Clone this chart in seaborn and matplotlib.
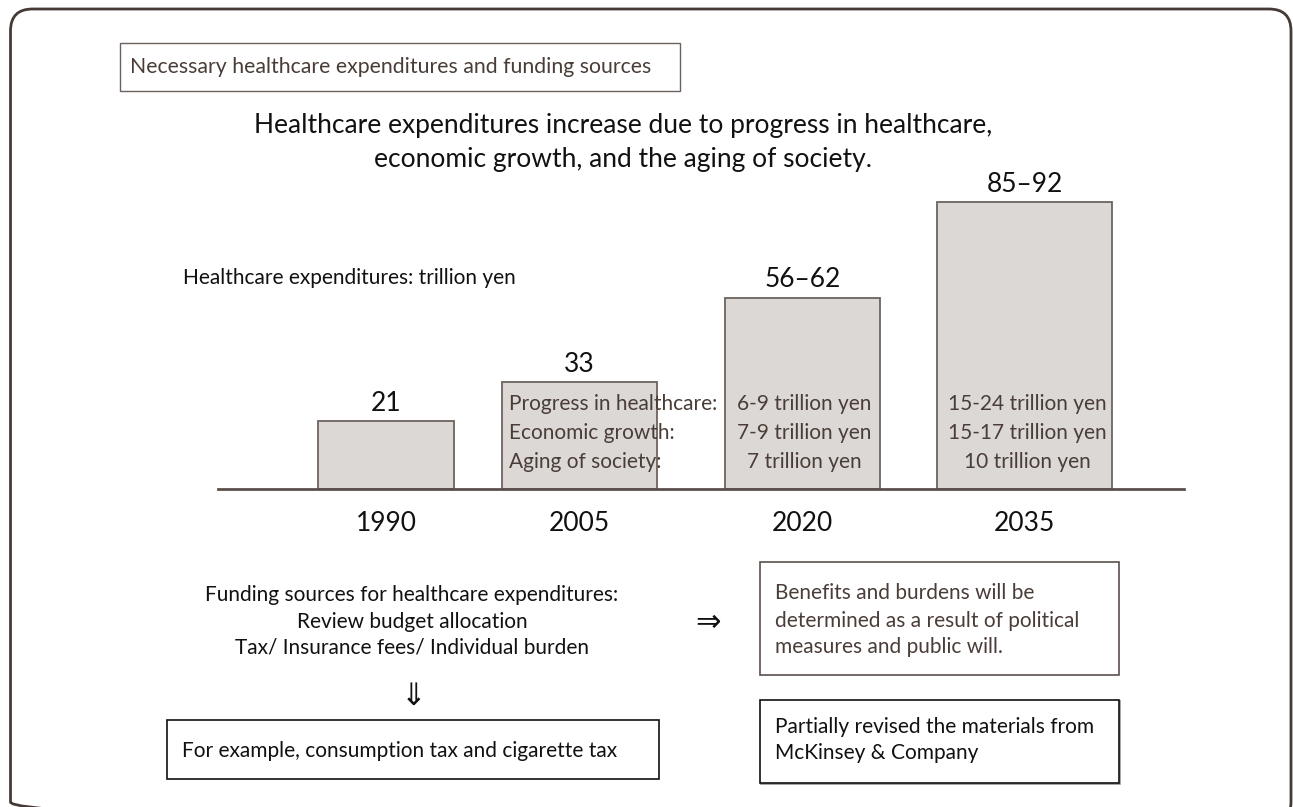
import matplotlib
matplotlib.use("Agg")
import matplotlib.pyplot as plt
import seaborn as sns
import pandas as pd
from matplotlib.patches import FancyBboxPatch, Rectangle

# ---- data -------------------------------------------------------------
years = ["1990", "2005", "2020", "2035"]
spend_low = [21, 33, 56, 85]      # trillion yen
spend_high = [21, 33, 62, 92]
value_labels = ["21", "33", "56–62", "85–92"]

driver_names = ["Progress in healthcare:", "Economic growth:", "Aging of society:"]
drivers_2020 = ["6-9 trillion yen", "7-9 trillion yen", "7 trillion yen"]
drivers_2035 = ["15-24 trillion yen", "15-17 trillion yen", "10 trillion yen"]

title_box_text = "Necessary healthcare expenditures and funding sources"
headline = ["Healthcare expenditures increase due to progress in healthcare,",
            "economic growth, and the aging of society."]
axis_note = "Healthcare expenditures: trillion yen"
funding_lines = ["Funding sources for healthcare expenditures:",
                 "Review budget allocation",
                 "Tax/ Insurance fees/ Individual burden"]
example_text = "For example, consumption tax and cigarette tax"
outcome_lines = ["Benefits and burdens will be",
                 "determined as a result of political",
                 "measures and public will."]
source_lines = ["Partially revised the materials from",
                "McKinsey & Company"]

df = pd.DataFrame({
    "year": years,
    "spend": [(lo + hi) / 2 for lo, hi in zip(spend_low, spend_high)],
    "label": value_labels,
})

# ---- layout (pixel grid of the canvas) -------------------------------
W, H = 1293, 807
bar_centers = [386, 579.5, 802.5, 1024.5]
bar_widths = [136, 155, 155, 175]
base_y = 489
px_per_unit = 3.24
ymax = 120

BROWN = "#4a3d38"
EDGE = "#6d625e"
FILL = "#dcd8d6"
INK = "#111111"

sns.set_theme(style="white")
plt.rcParams["font.family"] = ["Lato", "DejaVu Sans"]

fig = plt.figure(figsize=(W / 100, H / 100), dpi=100)

# ---- bar chart -------------------------------------------------------
ax = fig.add_axes([218 / W, (H - base_y) / H, (1184 - 218) / W,
                   ymax * px_per_unit / H])
sns.barplot(data=df, x="year", y="spend", ax=ax, color=FILL,
            saturation=1, edgecolor=EDGE, linewidth=1.3, width=0.8)
for patch, c, w in zip(ax.patches, bar_centers, bar_widths):
    patch.set_x(c - w / 2)
    patch.set_width(w)
    patch.set_facecolor(FILL)
ax.set_xlim(218, 1184)
ax.set_ylim(0, ymax)
ax.set_xticks(bar_centers, years)
ax.tick_params(axis="x", length=0, pad=16, labelsize=19, labelcolor=INK)
ax.set_yticks([])
ax.set_xlabel("")
ax.set_ylabel("")
for side in ["left", "right", "top"]:
    ax.spines[side].set_visible(False)
ax.spines["bottom"].set_color("#5b4f4b")
ax.spines["bottom"].set_linewidth(2)
ax.patch.set_alpha(0)

for c, v, lab in zip(bar_centers, df["spend"], df["label"]):
    ax.annotate(lab, xy=(c, v), xytext=(0, 7.5), textcoords="offset points",
                ha="center", va="baseline", fontsize=19, color=INK)

# ---- overlay in pixel coordinates -------------------------------------
fg = fig.add_axes([0, 0, 1, 1])
fg.set_xlim(0, W)
fg.set_ylim(H, 0)
fg.axis("off")
fg.patch.set_alpha(0)

# rounded outer frame (bottom edge runs past the canvas and is clipped)
fg.add_patch(FancyBboxPatch((10.5, 9), 1280.5, 815,
                            boxstyle="round,pad=0,rounding_size=22",
                            fill=False, edgecolor="#463a36", linewidth=2))

# driver breakdown inside the bars
row_base = [410, 439, 468]
for name, a, b, y in zip(driver_names, drivers_2020, drivers_2035, row_base):
    fg.text(509, y, name, ha="left", va="baseline", fontsize=15, color=BROWN)
    fg.text(804.5, y, a, ha="center", va="baseline", fontsize=15, color=BROWN)
    fg.text(1027, y, b, ha="center", va="baseline", fontsize=15, color=BROWN)

# title box
fg.add_patch(Rectangle((120, 43), 560, 48, fill=False,
                       edgecolor="#6d625e", linewidth=1))
fg.text(130, 67, title_box_text, ha="left", va="center",
        fontsize=15.3, color=BROWN)

for y, line in zip([125, 160], headline):
    fg.text(623, y, line, ha="center", va="center", fontsize=19, color=INK)

fg.text(183, 278, axis_note, ha="left", va="center", fontsize=15, color=INK)

for y, line in zip([595, 622, 648], funding_lines):
    fg.text(412, y, line, ha="center", va="center", fontsize=15, color=INK)
fg.text(413, 696, "⇓", ha="center", va="center", fontsize=22, color=INK,
        family="DejaVu Sans")

fg.add_patch(Rectangle((167, 720), 492, 59, fill=False,
                       edgecolor=INK, linewidth=1.2))
fg.text(182, 751, example_text, ha="left", va="center", fontsize=15, color=INK)

fg.text(708, 622, "⇒", ha="center", va="center", fontsize=22, color=INK,
        family="DejaVu Sans")

fg.add_patch(Rectangle((760, 562), 359, 113, fill=False,
                       edgecolor="#5b4f4b", linewidth=1.2))
for y, line in zip([593, 621, 647], outcome_lines):
    fg.text(775, y, line, ha="left", va="center", fontsize=15, color=BROWN)

fg.add_patch(Rectangle((760.8, 700.8), 359, 83, fill=False,
                       edgecolor="#9a9494", linewidth=1.2))
fg.add_patch(Rectangle((760, 700), 359, 83, facecolor="white",
                       edgecolor=INK, linewidth=1.2))
for y, line in zip([727, 753], source_lines):
    fg.text(775, y, line, ha="left", va="center", fontsize=15, color=INK)

fig.savefig("out.png", dpi=100)
